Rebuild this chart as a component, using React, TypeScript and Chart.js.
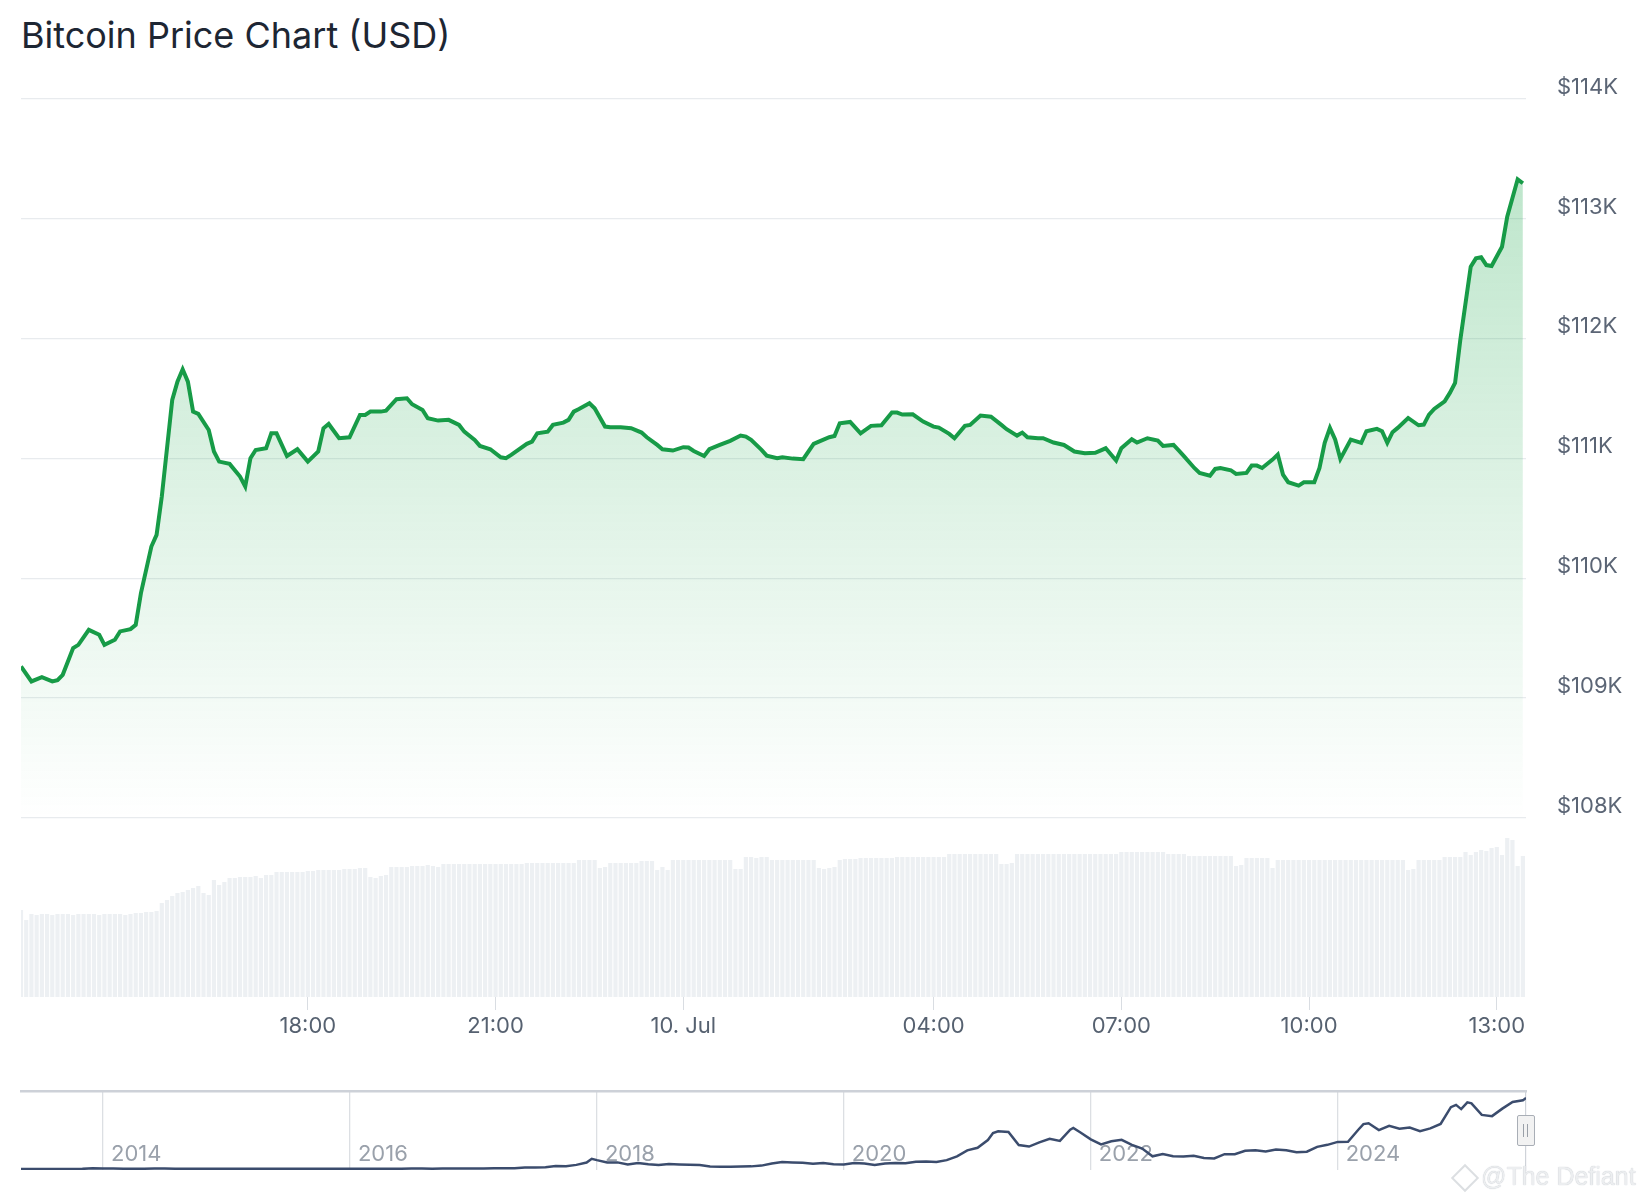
import React, { useEffect, useRef } from "react";
import { Chart, registerables } from "chart.js";

Chart.register(...registerables);

const FONT = "Inter, 'Noto Sans', 'DejaVu Sans', sans-serif";

// ---- 24h price (5-minute steps from 13:25, 9 Jul) ----
const priceSteps = [
  0, 2, 4, 6, 7, 8, 10, 11, 13, 15, 16, 18, 19, 21, 22, 23, 25, 26, 27, 29,
  30, 31, 32, 33, 34, 36, 37, 38, 40, 42, 43, 44, 45, 47, 48, 49, 51, 53, 55, 57,
  58, 59, 61, 63, 65, 66, 67, 69, 70, 72, 74, 75, 77, 78, 80, 82, 84, 85, 87, 88,
  90, 92, 93, 94, 97, 98, 99, 101, 102, 104, 105, 106, 107, 109, 110, 112, 113, 115, 117, 119,
  120, 122, 123, 125, 127, 128, 129, 131, 132, 134, 136, 138, 139, 140, 142, 143, 145, 146, 148, 150,
  152, 153, 155, 156, 157, 159, 161, 163, 165, 167, 168, 169, 171, 173, 175, 176, 178, 179, 181, 182,
  184, 186, 188, 189, 191, 192, 193, 195, 196, 198, 200, 202, 204, 206, 208, 210, 211, 213, 214, 216,
  218, 219, 221, 222, 223, 225, 226, 228, 229, 230, 232, 233, 235, 236, 237, 238, 240, 241, 242, 243,
  245, 246, 248, 249, 250, 251, 252, 253, 255, 257, 258, 260, 261, 262, 263, 264, 266, 268, 269, 270,
  271, 273, 274, 275, 276, 278, 279, 280, 281, 282, 284, 285, 287, 288,
];
const priceValues = [
  109264, 109139, 109175, 109139, 109150, 109194, 109417, 109444, 109569, 109528, 109444, 109486, 109556, 109575, 109611, 109875, 110264, 110361, 110681, 111486,
  111639, 111742, 111639, 111389, 111370, 111236, 111056, 110972, 110953, 110847, 110764, 111000, 111069, 111083, 111208, 111208, 111019, 111075, 110972, 111056,
  111250, 111286, 111167, 111175, 111361, 111361, 111389, 111389, 111397, 111492, 111500, 111450, 111403, 111334, 111314, 111320, 111278, 111222, 111153, 111103,
  111075, 111008, 111000, 111028, 111120, 111139, 111208, 111222, 111278, 111297, 111320, 111389, 111411, 111459, 111417, 111264, 111258, 111258, 111250, 111214,
  111175, 111111, 111075, 111064, 111092, 111089, 111061, 111019, 111075, 111111, 111145, 111189, 111181, 111153, 111070, 111022, 111000, 111008, 110997, 110992,
  111120, 111139, 111175, 111186, 111292, 111303, 111208, 111270, 111275, 111381, 111381, 111364, 111367, 111306, 111264, 111256, 111203, 111167, 111270, 111278,
  111356, 111347, 111278, 111242, 111189, 111214, 111175, 111167, 111167, 111131, 111111, 111056, 111042, 111045, 111083, 110981, 111083, 111158, 111131, 111167,
  111147, 111103, 111111, 111065, 111017, 110919, 110878, 110855, 110911, 110919, 110900, 110869, 110878, 110939, 110939, 110919, 110989, 111031, 110864, 110800,
  110772, 110800, 110800, 110919, 111128, 111253, 111156, 110994, 111156, 111128, 111225, 111245, 111225, 111128, 111217, 111253, 111336, 111275, 111281, 111364,
  111411, 111475, 111545, 111628, 111986, 112597, 112667, 112676, 112611, 112603, 112764, 113014, 113326, 113293,
];

// ---- volume bars (one per 5-minute step, relative units) ----
const volumeValues = [
  87, 77,
  83, 82, 83, 83, 82, 83, 83, 83, 82, 83, 83, 83, 83, 82, 83, 83, 83, 83, 82, 83, 84, 84,
  85, 85, 86,
  94, 97, 101, 104, 105, 107, 109, 111, 104, 102, 117, 112, 115, 119, 119, 120, 120, 120, 121, 119, 122, 122,
  125, 125, 125, 125, 125, 125, 126, 126,
  127, 127, 127, 127, 127, 128, 128, 128,
  129, 129,
  120, 119, 121,
  122,
  130, 130, 130, 130, 131, 131,
  131, 132, 131, 130,
  133, 133, 133, 133, 133, 133, 133, 133, 133, 133, 133, 133, 133, 133, 133, 133,
  134, 134, 134, 134, 134, 134, 134, 134, 134, 134,
  137, 137, 137, 137,
  129, 130,
  134, 134, 134, 134, 134, 134,
  136, 136, 136,
  127, 130, 127,
  137, 137, 137, 137, 137, 137, 137, 137, 137, 137, 137, 137,
  128, 128,
  140, 140, 139, 140, 140,
  137, 137, 137, 137, 137, 137, 137, 137, 137,
  129, 128, 129, 130,
  137, 138, 138, 138, 139, 139, 139, 139, 139, 139, 139,
  140, 140, 140, 140, 140, 140, 140, 140, 140, 140,
  143, 143, 143, 143, 143, 143, 143, 143, 143, 143,
  133, 133, 134,
  143, 143, 143, 143, 143, 143, 143, 143, 143, 143, 143, 143, 143, 143, 143, 143, 143, 143, 143, 143,
  145, 145, 145, 145, 145, 145, 145, 145, 145,
  143, 143, 143, 143,
  141, 141, 141, 141, 141, 141, 141, 141, 141,
  131, 132,
  139, 139, 139, 139, 139,
  129,
  137, 137, 137, 137, 137, 137, 137, 137, 137, 137, 137, 137, 137, 137, 137, 137, 137, 137, 137, 137, 137, 137, 137, 137, 137,
  127, 128,
  137, 137, 137, 137, 137,
  140, 140, 140, 140,
  145, 142, 145, 147, 146, 149, 150, 142, 159, 157, 131, 141,
];

const timeTickMinutes = [275, 455, 635, 875, 1055, 1235, 1415];
const timeTickLabels = ["18:00", "21:00", "10. Jul", "04:00", "07:00", "10:00", "13:00"];
const priceTickStep = 1000;
const priceMin = 108000;
const priceMax = 114000;

// ---- long-term history for navigator: [months since Jan 2013, price] ----
const navHistory: [number, number][] = [
  [4.03, 139], [5, 129], [6, 97], [7, 106], [8, 141], [9, 125], [10, 211], [11, 1130],
  [12, 805], [13, 900], [14, 550], [15, 450], [16, 445], [17, 630], [18, 640], [19, 585], [20, 480], [21, 390], [22, 340], [23, 375],
  [24, 320], [25, 215], [26, 255], [27, 245], [28, 235], [29, 230], [30, 265], [31, 285], [32, 230], [33, 235], [34, 315], [35, 380],
  [36, 430], [37, 370], [38, 435], [39, 415], [40, 450], [41, 530], [42, 675], [43, 625], [44, 575], [45, 610], [46, 700], [47, 745],
  [48, 965], [49, 970], [50, 1190], [51, 1080], [52, 1350], [53, 2300], [54, 2480], [55, 2870], [56, 4700], [57, 4340], [58, 6450], [59, 10000], [59.5, 16000],
  [60, 13800], [61, 10200], [62, 10300], [63, 6900], [64, 9200], [65, 7500], [66, 6400], [67, 7700], [68, 7000], [69, 6600], [70, 6300], [71, 4000],
  [72, 3700], [73, 3450], [74, 3850], [75, 4100], [76, 5300], [77, 8600], [78, 10800], [79, 10100], [80, 9600], [81, 8300], [82, 9200], [83, 7550],
  [84, 7200], [85, 9350], [86, 8600], [87, 6400], [88, 8600], [89, 9450], [90, 9150], [91, 11350], [92, 11650], [93, 10800], [94, 13800], [95, 19700],
  [96, 29000], [97, 33100], [98, 45200], [98.5, 56000], [99, 58800], [100, 57700], [101, 37300], [102, 35000], [103, 41500], [104, 47100], [105, 43800], [106, 61300], [106.3, 64000], [107, 57000],
  [108, 46300], [109, 38500], [110, 43200], [111, 45500], [112, 37700], [113, 31800], [114, 19800], [115, 23300], [116, 20000], [117, 19400], [118, 20500], [119, 17200],
  [120, 16500], [121, 23100], [122, 23100], [123, 28500], [124, 29300], [125, 27200], [126, 30500], [127, 29200], [128, 26000], [129, 27000], [130, 34500], [131, 37700],
  [132, 42300], [133, 42600], [134, 61200], [134.5, 70000], [135, 71300], [136, 60600], [137, 67500], [138, 62700], [139, 64600], [140, 58900], [141, 63300], [142, 70200], [143, 96400], [143.5, 100000],
  [144, 93400], [144.6, 104000], [145, 102400], [146, 84400], [147, 82500], [148, 94200], [149, 104600], [150, 107100], [150.3, 111000],
];
const navYearMonths = [12, 36, 60, 84, 108, 132];
const navYearLabels = ["2014", "2016", "2018", "2020", "2022", "2024"];

function PriceChart() {
  const ref = useRef<HTMLCanvasElement>(null);
  useEffect(() => {
    const canvas = ref.current!;
    const chart = new Chart(canvas, {
      type: "line",
      data: {
        datasets: [
          {
            type: "line",
            data: priceSteps.map((s, i) => ({ x: s * 5, y: priceValues[i] })),
            xAxisID: "x",
            yAxisID: "y",
            borderColor: "#179b47",
            borderWidth: 4,
            pointRadius: 0,
            tension: 0,
            fill: "start",
            backgroundColor: (c: any) => {
              const ch = c.chart;
              const ya = ch.scales && ch.scales.y;
              if (!ya || !Number.isFinite(ya.top) || !Number.isFinite(ya.bottom) || ya.bottom <= ya.top) {
                return "rgba(34,170,80,0.15)";
              }
              const g = ch.ctx.createLinearGradient(0, ya.top, 0, ya.bottom);
              g.addColorStop(0, "rgba(34,170,80,0.33)");
              g.addColorStop(1, "rgba(34,170,80,0.0)");
              return g;
            },
            order: 0,
          } as any,
          {
            type: "bar",
            data: volumeValues.map((v, i) => ({ x: i * 5, y: v })),
            xAxisID: "x",
            yAxisID: "yVol",
            backgroundColor: "#edf0f3",
            barPercentage: 0.8,
            categoryPercentage: 1,
            order: 1,
          } as any,
        ],
      },
      options: {
        animation: false,
        responsive: false,
        maintainAspectRatio: false,
        events: [],
        layout: { padding: { top: 98.5, left: 21, right: 0, bottom: 0 } },
        plugins: { legend: { display: false }, tooltip: { enabled: false } },
        scales: {
          x: {
            type: "linear",
            position: "bottom",
            min: 0,
            max: 1443,
            offset: false,
            grid: {
              display: true,
              offset: false,
              drawOnChartArea: false,
              drawTicks: true,
              tickLength: 13,
              color: "#d9dde2",
              lineWidth: 1,
            },
            border: { display: false },
            ticks: {
              autoSkip: false,
              maxRotation: 0,
              padding: 3,
              color: "#566170",
              font: { family: FONT, size: 22 },
              callback: (v: any) => {
                const i = timeTickMinutes.indexOf(Number(v));
                return i >= 0 ? timeTickLabels[i] : "";
              },
            },
            afterBuildTicks: (a: any) => {
              a.ticks = timeTickMinutes.map((v) => ({ value: v }));
            },
            afterFit: (a: any) => {
              a.height = 50;
            },
          },
          y: {
            type: "linear",
            position: "right",
            stack: "v",
            stackWeight: 719.5,
            weight: 0,
            min: priceMin,
            max: priceMax,
            grid: { color: "#e8ebee", lineWidth: 1.3, drawTicks: false },
            border: { display: false },
            ticks: {
              stepSize: priceTickStep,
              padding: 31,
              labelOffset: -11.5,
              color: "#5b6575",
              font: { family: FONT, size: 22 },
              callback: (v: any) => "$" + Number(v) / 1000 + "K",
            },
            afterFit: (a: any) => {
              a.width = 118;
            },
          },
          yVol: {
            type: "linear",
            position: "right",
            stack: "v",
            stackWeight: 179,
            weight: 1,
            min: 0,
            max: 179,
            grid: { display: false },
            border: { display: false },
            ticks: { display: false },
            afterFit: (a: any) => {
              a.width = 118;
            },
          },
        },
      } as any,
    });
    return () => chart.destroy();
  }, []);
  return (
    <canvas
      ref={ref}
      width={1644}
      height={1047}
      style={{ position: "absolute", left: 0, top: 0, width: 1644, height: 1047 }}
    />
  );
}

function NavigatorChart() {
  const ref = useRef<HTMLCanvasElement>(null);
  useEffect(() => {
    const canvas = ref.current!;
    const chart = new Chart(canvas, {
      type: "line",
      data: {
        datasets: [
          {
            data: navHistory.map(([m, p]) => ({ x: m, y: p })),
            borderColor: "#3b4c6d",
            borderWidth: 2.5,
            pointRadius: 0,
            tension: 0,
            fill: false,
            xAxisID: "x",
            yAxisID: "y",
          },
        ],
      },
      options: {
        animation: false,
        responsive: false,
        maintainAspectRatio: false,
        events: [],
        layout: { padding: { top: 6, left: 21, right: 118, bottom: 0 } },
        plugins: { legend: { display: false }, tooltip: { enabled: false } },
        scales: {
          x: {
            type: "linear",
            position: "bottom",
            min: 4.03,
            max: 150.3,
            grid: { display: true, drawOnChartArea: true, drawTicks: false, color: "#dcdfe3", lineWidth: 1.3 },
            border: { display: false },
            ticks: {
              autoSkip: false,
              maxRotation: 0,
              mirror: true,
              align: "start",
              labelOffset: 8,
              padding: 2.5,
              color: "#9aa1ab",
              font: { family: FONT, size: 22 },
              callback: (v: any) => {
                const i = navYearMonths.indexOf(Number(v));
                return i >= 0 ? navYearLabels[i] : "";
              },
            },
            afterBuildTicks: (a: any) => {
              a.ticks = navYearMonths.map((v) => ({ value: v }));
            },
            afterFit: (a: any) => {
              a.height = 15;
            },
          },
          xTop: {
            type: "linear",
            position: "top",
            min: 4.03,
            max: 150.3,
            grid: { display: false, drawTicks: false },
            border: { display: true, color: "#cdd1d8", width: 2.5 },
            ticks: { display: false },
            afterFit: (a: any) => {
              a.height = 0;
            },
          },
          y: {
            type: "linear",
            position: "right",
            min: -1560,
            max: 121700,
            grid: { display: false, drawTicks: false },
            border: { display: true, color: "#cfd3d9", width: 1.2 },
            ticks: { display: false },
            afterFit: (a: any) => {
              a.width = 0;
            },
          },
        },
      } as any,
    });
    return () => chart.destroy();
  }, []);
  return (
    <canvas
      ref={ref}
      width={1644}
      height={100}
      style={{ position: "absolute", left: 0, top: 1085, width: 1644, height: 100 }}
    />
  );
}

export default function App() {
  return (
    <div style={{ position: "absolute", left: 0, top: 0, width: 1644, height: 1200, background: "#ffffff", overflow: "hidden" }}>
      <div
        style={{
          position: "absolute",
          left: 21,
          top: 17,
          fontFamily: FONT,
          fontSize: 36,
          lineHeight: "36px",
          fontWeight: 400,
          color: "#1d2633",
          whiteSpace: "nowrap",
        }}
      >
        Bitcoin Price Chart (USD)
      </div>
      <PriceChart />
      <NavigatorChart />
      {/* navigator handle */}
      <div
        style={{
          position: "absolute",
          left: 1517,
          top: 1115,
          width: 16,
          height: 29,
          background: "#f2f2f2",
          border: "1px solid #a9aeb6",
          borderRadius: 2,
        }}
      >
        <div style={{ position: "absolute", left: 5, top: 8, width: 1, height: 13, background: "#9aa0a8" }} />
        <div style={{ position: "absolute", left: 9, top: 8, width: 1, height: 13, background: "#9aa0a8" }} />
      </div>
      {/* watermark */}
      <div
        style={{
          position: "absolute",
          left: 1455,
          top: 1168,
          width: 16,
          height: 16,
          border: "2px solid #dcdfe2",
          transform: "rotate(45deg)",
        }}
      />
      <div
        style={{
          position: "absolute",
          left: 1481,
          top: 1164,
          fontFamily: "'Liberation Sans', Arial, sans-serif",
          fontSize: 25,
          lineHeight: "25px",
          color: "#eceef0",
          textShadow: "0 0 1px #b4b9c0",
          whiteSpace: "nowrap",
        }}
      >
        @The Defiant
      </div>
    </div>
  );
}
